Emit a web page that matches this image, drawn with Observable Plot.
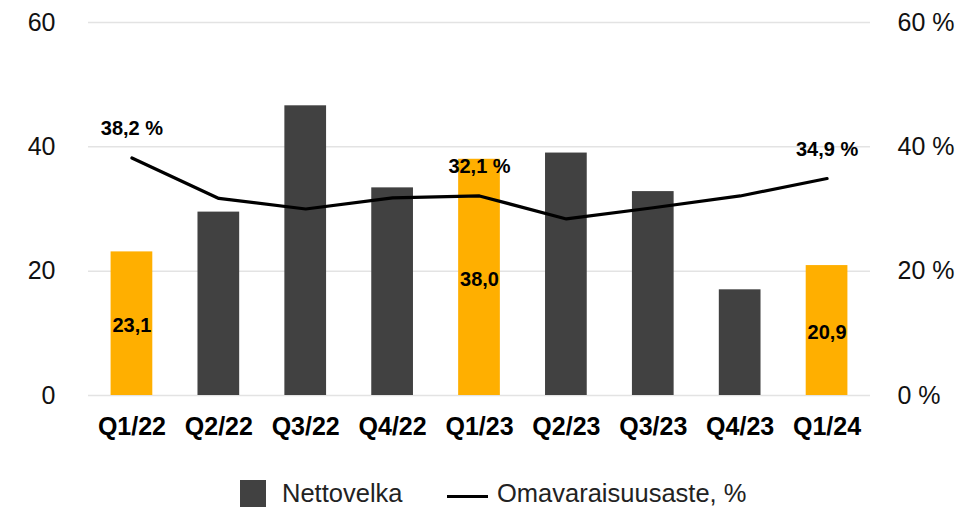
<!DOCTYPE html>
<html>
<head>
<meta charset="utf-8">
<script src="https://cdn.jsdelivr.net/npm/d3@7"></script>
<script src="https://cdn.jsdelivr.net/npm/@observablehq/plot@0.6"></script>
<style>
  html, body { margin: 0; padding: 0; background: #fff; }
  body { width: 962px; height: 507px; overflow: hidden; font-family: "Liberation Sans", Arial, sans-serif; }
  #chart svg { display: block; }
  #legend { position: relative; height: 45px; font-size: 25.5px; color: #222; }
  .sw { position: absolute; }
  .lt { position: absolute; line-height: 25.5px; white-space: nowrap; }
</style>
</head>
<body>
<div id="chart"></div>
<div id="legend">
  <div class="sw" style="left:240px;top:18px;width:26px;height:27px;background:#414141"></div>
  <div class="lt" style="left:282px;top:19px">Nettovelka</div>
  <div class="sw" style="left:447px;top:33px;width:41px;height:3px;background:#000"></div>
  <div class="lt" style="left:497px;top:19px">Omavaraisuusaste, %</div>
</div>
<script>
const quarters = ["Q1/22","Q2/22","Q3/22","Q4/22","Q1/23","Q2/23","Q3/23","Q4/23","Q1/24"];
const nettovelka = [23.1, 29.5, 46.6, 33.4, 38.0, 39.0, 32.8, 17.0, 20.9];
const omavaraisuusaste = [38.2, 31.7, 30.0, 31.8, 32.1, 28.4, 30.2, 32.1, 34.9];
const highlighted = ["Q1/22", "Q1/23", "Q1/24"];
const yTicks = [0, 20, 40, 60];

const fmt = v => v.toFixed(1).replace(".", ",");
const data = quarters.map((q, i) => ({
  q, debt: nettovelka[i], ratio: omavaraisuusaste[i], hi: highlighted.includes(q)
}));

const chart = Plot.plot({
  width: 962,
  height: 462,
  marginLeft: 88,
  marginRight: 92,
  marginTop: 22,
  marginBottom: 67,
  style: { fontFamily: "'Liberation Sans', Arial, sans-serif", background: "#fff" },
  x: { domain: quarters, paddingInner: 0.52, paddingOuter: 0.26, round: false, label: null },
  y: { domain: [0, 60], label: null },
  marks: [
    Plot.ruleY(yTicks, { stroke: "#e3e3e3", strokeWidth: 1.5 }),
    Plot.barY(data, { x: "q", y: "debt", fill: d => d.hi ? "#FFAF00" : "#414141" }),
    Plot.text(data.filter(d => d.hi), {
      x: "q", y: d => d.debt / 2, text: d => fmt(d.debt), dy: 2,
      fontSize: 20, fontWeight: "bold", fill: "#000"
    }),
    Plot.line(data, { x: "q", y: "ratio", stroke: "#000", strokeWidth: 3.2 }),
    Plot.text(data.filter(d => d.hi), {
      x: "q", y: "ratio", text: d => fmt(d.ratio) + " %", dy: -29,
      fontSize: 20, fontWeight: "bold", fill: "#000"
    }),
    Plot.axisY(yTicks, { anchor: "left", tickSize: 0, tickPadding: 33, fontSize: 25, fill: "#111", label: null }),
    Plot.axisY(yTicks, { anchor: "right", tickSize: 0, tickPadding: 27, fontSize: 25, fill: "#111", label: null, tickFormat: d => d + " %" }),
    Plot.axisX({ tickSize: 0, tickPadding: 22, fontSize: 25, fontWeight: "bold", fill: "#000", label: null })
  ]
});
document.getElementById("chart").appendChild(chart);
</script>
</body>
</html>
